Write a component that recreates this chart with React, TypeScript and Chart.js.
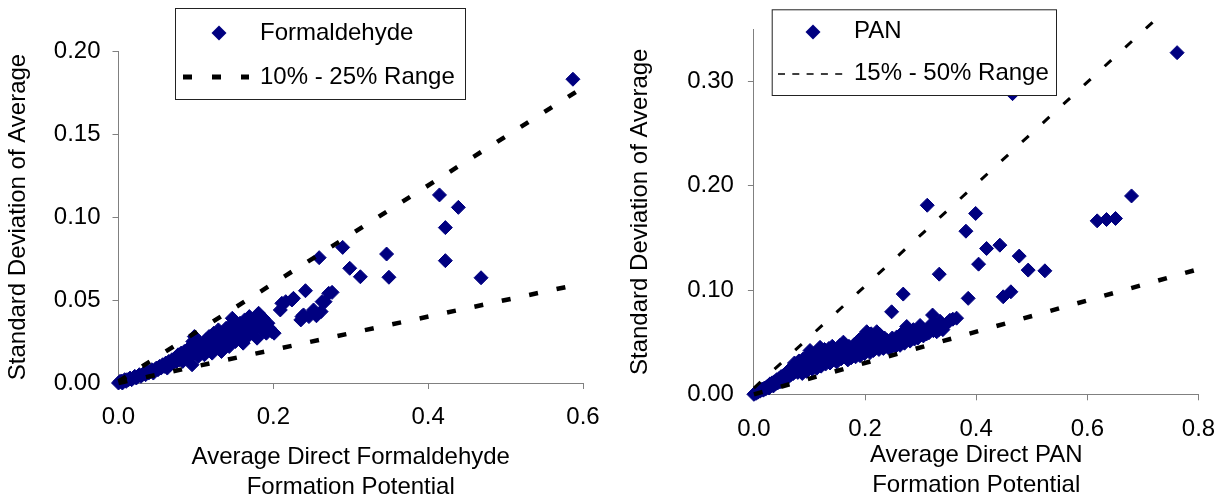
import React, { useEffect, useRef } from 'react';
import { Chart, registerables } from 'chart.js';

Chart.register(...registerables);

const FONT = '"Liberation Sans", Arial, sans-serif';
const NAVY = '#000080';
const AXIS_GRAY = '#808080';

// ---------- Formaldehyde chart data ----------
const formaldehydeXTicks = [0, 0.2, 0.4, 0.6];
const formaldehydeYTicks = [0, 0.05, 0.1, 0.15, 0.2];
const formaldehydePoints: [number, number][] = [
  [0.000, 0.000], [0.002, 0.001], [0.004, 0.001], [0.005, 0.000], [0.006, 0.001], [0.008, 0.002],
  [0.010, 0.001], [0.011, 0.002], [0.013, 0.002], [0.015, 0.003], [0.017, 0.002], [0.019, 0.003],
  [0.021, 0.004], [0.023, 0.003], [0.025, 0.004], [0.027, 0.005], [0.029, 0.004], [0.031, 0.005],
  [0.033, 0.006], [0.035, 0.005], [0.037, 0.007], [0.039, 0.006], [0.041, 0.007], [0.043, 0.008],
  [0.045, 0.006], [0.047, 0.008], [0.049, 0.009], [0.051, 0.008], [0.053, 0.010], [0.055, 0.009],
  [0.057, 0.011], [0.059, 0.010], [0.061, 0.012], [0.063, 0.009], [0.065, 0.013], [0.067, 0.011],
  [0.069, 0.014], [0.071, 0.012], [0.073, 0.015], [0.075, 0.013], [0.077, 0.017], [0.079, 0.014],
  [0.081, 0.018], [0.083, 0.013], [0.085, 0.019], [0.087, 0.016], [0.089, 0.020], [0.091, 0.015],
  [0.093, 0.022], [0.095, 0.011], [0.096, 0.025], [0.098, 0.028], [0.099, 0.018], [0.101, 0.021],
  [0.103, 0.016], [0.105, 0.024], [0.107, 0.019], [0.109, 0.022], [0.111, 0.017], [0.113, 0.026],
  [0.115, 0.020], [0.117, 0.028], [0.119, 0.023], [0.121, 0.018], [0.123, 0.030], [0.125, 0.025],
  [0.127, 0.021], [0.129, 0.032], [0.131, 0.027], [0.133, 0.019], [0.135, 0.029], [0.137, 0.024],
  [0.139, 0.033], [0.141, 0.027], [0.143, 0.022], [0.145, 0.035], [0.147, 0.039], [0.149, 0.030],
  [0.151, 0.025], [0.153, 0.033], [0.155, 0.028], [0.157, 0.036], [0.159, 0.031], [0.161, 0.024],
  [0.163, 0.038], [0.165, 0.034], [0.167, 0.028], [0.169, 0.040], [0.171, 0.036], [0.173, 0.031],
  [0.175, 0.038], [0.177, 0.033], [0.179, 0.027], [0.181, 0.042], [0.183, 0.037], [0.185, 0.032],
  [0.187, 0.039], [0.189, 0.035], [0.191, 0.030], [0.193, 0.036], [0.195, 0.033], [0.198, 0.031],
  [0.201, 0.030], [0.209, 0.044], [0.211, 0.048], [0.216, 0.049], [0.224, 0.050], [0.226, 0.051],
  [0.2355, 0.038], [0.237, 0.040], [0.239, 0.041], [0.2415, 0.0556], [0.246, 0.040], [0.252, 0.044],
  [0.2557, 0.0405], [0.2617, 0.043], [0.263, 0.049], [0.2668, 0.049], [0.2716, 0.054], [0.2759, 0.0546],
  [0.2592, 0.0755], [0.2896, 0.0817], [0.2987, 0.0691], [0.3124, 0.064], [0.3463, 0.0777], [0.3493, 0.0637],
  [0.4146, 0.1133], [0.439, 0.1058], [0.4222, 0.0936], [0.4222, 0.0737], [0.4683, 0.0634], [0.587, 0.183],
];
const formaldehydeRangeHigh: [number, number][] = [[0, 0.001], [0.6, 0.178]];
const formaldehydeRangeLow: [number, number][] = [[0, 0], [0.59, 0.059]];

// ---------- PAN chart data ----------
const panXTicks = [0, 0.2, 0.4, 0.6, 0.8];
const panYTicks = [0, 0.1, 0.2, 0.3];
const panPoints: [number, number][] = [
  [0.000, 0.000], [0.002, 0.001], [0.004, 0.001], [0.005, 0.002], [0.007, 0.002], [0.009, 0.003],
  [0.011, 0.003], [0.013, 0.004], [0.015, 0.005], [0.017, 0.004], [0.019, 0.006], [0.021, 0.005],
  [0.023, 0.007], [0.025, 0.008], [0.027, 0.006], [0.029, 0.010], [0.031, 0.009], [0.033, 0.011],
  [0.035, 0.008], [0.037, 0.012], [0.039, 0.010], [0.041, 0.014], [0.043, 0.011], [0.045, 0.015],
  [0.047, 0.012], [0.049, 0.017], [0.051, 0.013], [0.053, 0.018], [0.055, 0.014], [0.057, 0.020],
  [0.059, 0.016], [0.061, 0.022], [0.063, 0.017], [0.065, 0.024], [0.067, 0.019], [0.069, 0.026],
  [0.071, 0.020], [0.073, 0.030], [0.075, 0.022], [0.077, 0.027], [0.079, 0.021], [0.081, 0.032],
  [0.083, 0.024], [0.085, 0.029], [0.087, 0.020], [0.089, 0.034], [0.091, 0.026], [0.093, 0.031],
  [0.095, 0.022], [0.097, 0.037], [0.099, 0.028], [0.101, 0.042], [0.103, 0.033], [0.105, 0.024],
  [0.107, 0.038], [0.109, 0.030], [0.111, 0.036], [0.113, 0.025], [0.115, 0.040], [0.117, 0.032],
  [0.119, 0.045], [0.121, 0.027], [0.123, 0.038], [0.125, 0.034], [0.127, 0.043], [0.129, 0.029],
  [0.131, 0.040], [0.133, 0.035], [0.135, 0.044], [0.137, 0.030], [0.139, 0.039], [0.141, 0.046],
  [0.143, 0.033], [0.145, 0.041], [0.147, 0.036], [0.149, 0.031], [0.151, 0.043], [0.153, 0.038],
  [0.155, 0.047], [0.157, 0.034], [0.159, 0.041], [0.161, 0.050], [0.163, 0.036], [0.165, 0.044],
  [0.167, 0.039], [0.169, 0.033], [0.171, 0.046], [0.173, 0.041], [0.175, 0.035], [0.177, 0.043],
  [0.179, 0.038], [0.181, 0.048], [0.183, 0.036], [0.185, 0.044], [0.187, 0.040], [0.189, 0.052],
  [0.191, 0.037], [0.193, 0.046], [0.195, 0.041], [0.197, 0.056], [0.199, 0.039], [0.201, 0.048],
  [0.203, 0.060], [0.205, 0.044], [0.207, 0.053], [0.209, 0.040], [0.211, 0.058], [0.213, 0.047],
  [0.215, 0.042], [0.217, 0.055], [0.219, 0.044], [0.221, 0.060], [0.223, 0.049], [0.225, 0.043],
  [0.227, 0.057], [0.229, 0.046], [0.231, 0.051], [0.233, 0.044], [0.235, 0.054], [0.237, 0.048],
  [0.239, 0.052], [0.241, 0.045], [0.243, 0.050], [0.245, 0.044], [0.247, 0.049], [0.249, 0.054],
  [0.251, 0.047], [0.253, 0.052], [0.255, 0.046], [0.257, 0.055], [0.259, 0.049], [0.261, 0.053],
  [0.263, 0.047], [0.265, 0.058], [0.267, 0.051], [0.269, 0.056], [0.271, 0.049], [0.273, 0.062],
  [0.275, 0.065], [0.277, 0.053], [0.279, 0.058], [0.281, 0.051], [0.283, 0.060], [0.285, 0.055],
  [0.287, 0.062], [0.289, 0.053], [0.291, 0.058], [0.293, 0.055], [0.295, 0.054], [0.297, 0.061],
  [0.299, 0.066], [0.301, 0.057], [0.303, 0.063], [0.305, 0.056], [0.307, 0.060], [0.309, 0.058],
  [0.311, 0.058], [0.313, 0.062], [0.315, 0.059], [0.317, 0.066], [0.3215, 0.076], [0.323, 0.061],
  [0.325, 0.068], [0.327, 0.063], [0.329, 0.060], [0.331, 0.066], [0.333, 0.062], [0.335, 0.070],
  [0.337, 0.065], [0.340, 0.062], [0.3437, 0.066], [0.347, 0.068], [0.3527, 0.071], [0.358, 0.072],
  [0.3647, 0.073], [0.2478, 0.0791], [0.2687, 0.0961], [0.3119, 0.1813], [0.3335, 0.1152],
  [0.3815, 0.1564], [0.399, 0.1734], [0.4187, 0.1398], [0.4426, 0.143], [0.4774, 0.1325],
  [0.4043, 0.1248], [0.4935, 0.1191], [0.5236, 0.1184], [0.3856, 0.092], [0.4486, 0.0935],
  [0.4624, 0.0983], [0.4654, 0.2883], [0.6177, 0.1663], [0.6345, 0.1676], [0.6507, 0.1686],
  [0.6795, 0.1902], [0.7615, 0.3276],
];
const panRangeHigh: [number, number][] = [[0, 0.006], [0.72, 0.358]];
const panRangeLow: [number, number][] = [[0, 0], [0.8, 0.12]];

type LegendSpec = {
  box: [number, number, number, number];
  marker: [number, number];
  seriesLabel: string;
  seriesTextPos: [number, number];
  dash: [number, number, number];
  dashWidth: number;
  dashPattern: number[];
  rangeLabel: string;
  rangeTextPos: [number, number];
};

type ChartSpec = {
  width: number;
  points: [number, number][];
  high: [number, number][];
  low: [number, number][];
  highWidth: number;
  lowWidth: number;
  xMax: number;
  yMax: number;
  xTicks: number[];
  yTicks: number[];
  xDigits: number;
  yDigits: number;
  padding: { left: number; top: number; right: number; bottom: number };
  yAxisWidth: number;
  xAxisHeight: number;
  yTickPadding: number;
  xTickPadding: number;
  yTitlePadding: number;
  xTitlePadding: number;
  xTitle: string[];
  yTitle: string;
  legend: LegendSpec;
};

function legendPlugin(l: LegendSpec) {
  return {
    id: 'boxLegend',
    afterDraw(chart: any) {
      const ctx = chart.ctx as CanvasRenderingContext2D;
      ctx.save();
      const [bx, by, bw, bh] = l.box;
      ctx.fillStyle = '#ffffff';
      ctx.fillRect(bx, by, bw, bh);
      ctx.strokeStyle = '#222222';
      ctx.lineWidth = 1;
      ctx.strokeRect(bx + 0.5, by + 0.5, bw, bh);
      // marker
      const [mx, my] = l.marker;
      const r = 7.5;
      ctx.fillStyle = NAVY;
      ctx.beginPath();
      ctx.moveTo(mx - r, my);
      ctx.lineTo(mx, my - r);
      ctx.lineTo(mx + r, my);
      ctx.lineTo(mx, my + r);
      ctx.closePath();
      ctx.fill();
      // dash sample
      const [dx1, dx2, dy] = l.dash;
      ctx.strokeStyle = '#000000';
      ctx.lineWidth = l.dashWidth;
      ctx.setLineDash(l.dashPattern);
      ctx.beginPath();
      ctx.moveTo(dx1, dy);
      ctx.lineTo(dx2, dy);
      ctx.stroke();
      ctx.setLineDash([]);
      // texts
      ctx.fillStyle = '#000000';
      ctx.font = `24px ${FONT}`;
      ctx.textBaseline = 'middle';
      ctx.textAlign = 'left';
      ctx.fillText(l.seriesLabel, l.seriesTextPos[0], l.seriesTextPos[1]);
      ctx.fillText(l.rangeLabel, l.rangeTextPos[0], l.rangeTextPos[1]);
      ctx.restore();
    },
  };
}

function buildConfig(s: ChartSpec): any {
  const toXY = (arr: [number, number][]) => arr.map(([x, y]) => ({ x, y }));
  return {
    type: 'scatter',
    data: {
      datasets: [
        {
          type: 'line',
          data: toXY(s.high),
          borderColor: '#000000',
          borderWidth: s.highWidth,
          borderDash: [9, 19],
          borderCapStyle: 'butt',
          pointRadius: 0,
          fill: false,
          showLine: true,
          clip: false,
          order: 0,
        },
        {
          type: 'line',
          data: toXY(s.low),
          borderColor: '#000000',
          borderWidth: s.lowWidth,
          borderDash: [9, 19],
          borderCapStyle: 'butt',
          pointRadius: 0,
          fill: false,
          showLine: true,
          clip: false,
          order: 1,
        },
        {
          type: 'scatter',
          data: toXY(s.points),
          pointStyle: 'rectRot',
          pointRadius: 7,
          pointBorderWidth: 1,
          backgroundColor: NAVY,
          borderColor: NAVY,
          clip: false,
          order: 2,
        },
      ],
    },
    options: {
      animation: false,
      responsive: false,
      events: [],
      layout: { padding: s.padding },
      plugins: { legend: { display: false }, tooltip: { enabled: false }, title: { display: false } },
      scales: {
        x: {
          type: 'linear',
          min: 0,
          max: s.xMax,
          afterBuildTicks: (sc: any) => {
            sc.ticks = s.xTicks.map((v) => ({ value: v }));
          },
          afterFit: (sc: any) => {
            sc.height = s.xAxisHeight;
            sc.paddingLeft = 0;
            sc.paddingRight = 0;
          },
          ticks: {
            callback: (v: any) => Number(v).toFixed(s.xDigits),
            font: { family: FONT, size: 24 },
            color: '#000000',
            padding: s.xTickPadding,
            maxRotation: 0,
            autoSkip: false,
          },
          grid: { drawOnChartArea: false, drawTicks: true, tickLength: 6, color: AXIS_GRAY },
          border: { display: true, color: AXIS_GRAY, width: 1 },
          title: {
            display: true,
            text: s.xTitle,
            font: { family: FONT, size: 24, lineHeight: 1.25 },
            color: '#000000',
            padding: { top: 0, bottom: s.xTitlePadding },
          },
        },
        y: {
          type: 'linear',
          min: 0,
          max: s.yMax,
          afterBuildTicks: (sc: any) => {
            sc.ticks = s.yTicks.map((v) => ({ value: v }));
          },
          afterFit: (sc: any) => {
            sc.width = s.yAxisWidth;
            sc.paddingTop = 0;
            sc.paddingBottom = 0;
          },
          ticks: {
            callback: (v: any) => Number(v).toFixed(s.yDigits),
            font: { family: FONT, size: 24 },
            color: '#000000',
            padding: s.yTickPadding,
            autoSkip: false,
          },
          grid: { drawOnChartArea: false, drawTicks: true, tickLength: 6, color: AXIS_GRAY },
          border: { display: true, color: AXIS_GRAY, width: 1 },
          title: {
            display: true,
            text: s.yTitle,
            font: { family: FONT, size: 24, lineHeight: 1.2 },
            color: '#000000',
            padding: { top: s.yTitlePadding, bottom: 0 },
          },
        },
      },
    },
    plugins: [legendPlugin(s.legend)],
  };
}

const leftSpec: ChartSpec = {
  width: 612,
  points: formaldehydePoints,
  high: formaldehydeRangeHigh,
  low: formaldehydeRangeLow,
  highWidth: 4.5,
  lowWidth: 4.5,
  xMax: 0.6,
  yMax: 0.2,
  xTicks: formaldehydeXTicks,
  yTicks: formaldehydeYTicks,
  xDigits: 1,
  yDigits: 2,
  padding: { left: 0, top: 51, right: 29, bottom: 0 },
  yAxisWidth: 118.5,
  xAxisHeight: 119,
  yTickPadding: 12,
  xTickPadding: 14,
  yTitlePadding: 4,
  xTitlePadding: 0,
  xTitle: ['Average Direct Formaldehyde', 'Formation Potential'],
  yTitle: 'Standard Deviation of Average',
  legend: {
    box: [175, 8, 290, 91],
    marker: [219, 33],
    seriesLabel: 'Formaldehyde',
    seriesTextPos: [260, 33.5],
    dash: [183, 249, 77],
    dashWidth: 5,
    dashPattern: [9, 20],
    rangeLabel: '10% - 25% Range',
    rangeTextPos: [260, 77.5],
  },
};

const rightSpec: ChartSpec = {
  width: 613,
  points: panPoints,
  high: panRangeHigh,
  low: panRangeLow,
  highWidth: 3,
  lowWidth: 4.5,
  xMax: 0.8,
  yMax: 0.35,
  xTicks: panXTicks,
  yTicks: panYTicks,
  xDigits: 1,
  yDigits: 2,
  padding: { left: 0, top: 29.3, right: 613 - 586.5, bottom: 0 },
  yAxisWidth: 141.9,
  xAxisHeight: 502 - 394.3,
  yTickPadding: 14,
  xTickPadding: 15,
  yTitlePadding: 14,
  xTitlePadding: 2,
  xTitle: ['Average Direct PAN', 'Formation Potential'],
  yTitle: 'Standard Deviation of Average',
  legend: {
    box: [159.7, 9.3, 284.3, 85.7],
    marker: [201, 32],
    seriesLabel: 'PAN',
    seriesTextPos: [242, 31.7],
    dash: [166, 237, 74],
    dashWidth: 1.5,
    dashPattern: [7, 7.3],
    rangeLabel: '15% - 50% Range',
    rangeTextPos: [242, 73.5],
  },
};

function ChartCanvas({ spec, left }: { spec: ChartSpec; left: number }) {
  const ref = useRef<HTMLCanvasElement | null>(null);
  useEffect(() => {
    if (!ref.current) return;
    const chart = new Chart(ref.current, buildConfig(spec));
    return () => chart.destroy();
  }, [spec]);
  return (
    <canvas
      ref={ref}
      width={spec.width}
      height={502}
      style={{ position: 'absolute', left, top: 0, width: spec.width, height: 502, display: 'block' }}
    />
  );
}

export default function App() {
  return (
    <div
      style={{
        position: 'fixed',
        left: 0,
        top: 0,
        width: 1225,
        height: 502,
        background: '#ffffff',
        overflow: 'hidden',
      }}
    >
      <ChartCanvas spec={leftSpec} left={0} />
      <ChartCanvas spec={rightSpec} left={612} />
    </div>
  );
}
